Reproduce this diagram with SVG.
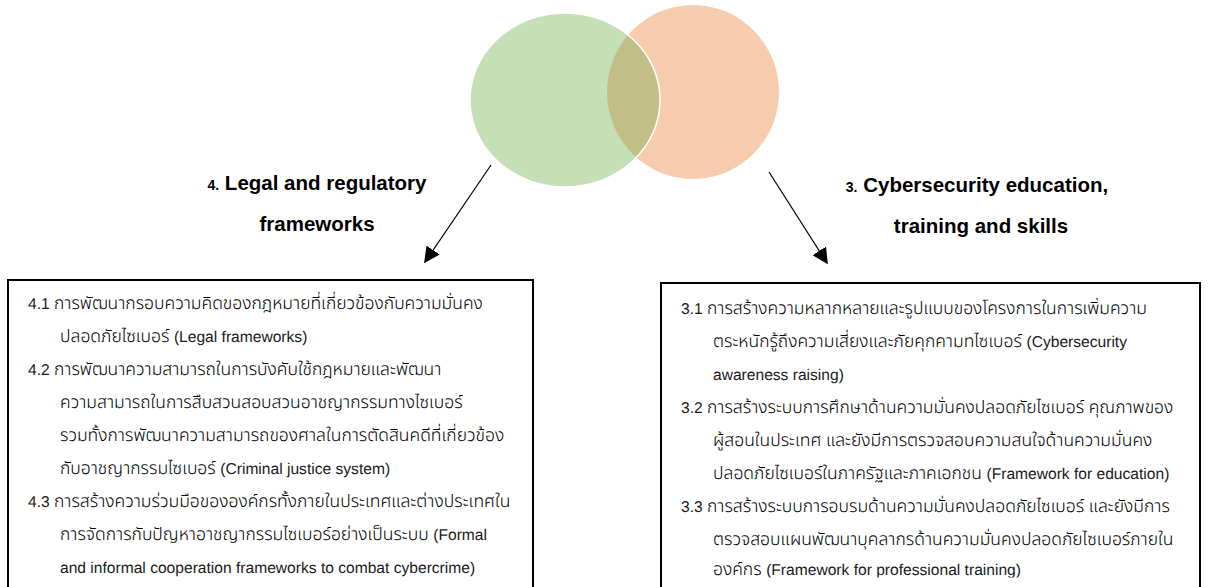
<svg xmlns="http://www.w3.org/2000/svg" width="1210" height="587" viewBox="0 0 1210 587">
  <style>
    .title { font-family: "Liberation Sans", Arial, sans-serif; font-weight: bold; font-size: 20.5px; fill: #000; }
    .num { font-size: 14px; }
    .body { font-family: "Liberation Sans", Arial, sans-serif; font-size: 15.6px; font-weight: normal; fill: #1a1a1a; text-rendering: geometricPrecision; }
    .th { font-family: "Noto Sans Thai", "Liberation Sans", sans-serif; font-size: 17.5px; font-weight: 350; fill: #000; }
    .box { fill: #fff; stroke: #000; stroke-width: 2; }
    .conn { stroke: #000; stroke-width: 1.2; fill: none; marker-end: url(#arrow); }
  </style>
  <defs>
    <marker id="arrow" viewBox="0 0 10 10" refX="9" refY="5" markerWidth="16" markerHeight="16" markerUnits="userSpaceOnUse" orient="auto">
      <path d="M0,0 L10,5 L0,10 z" fill="#000"/>
    </marker>
    <clipPath id="greenClip">
      <ellipse cx="565" cy="100" rx="95" ry="87"/>
    </clipPath>
    <clipPath id="rightBoxClip">
      <rect x="661" y="283" width="540" height="294.5"/>
    </clipPath>
  </defs>

  <!-- Venn pair -->
  <g id="venn">
    <ellipse cx="693" cy="92" rx="86" ry="87" fill="#f7cbae"/>
    <ellipse cx="565" cy="100" rx="95" ry="87" fill="#c5dfb7"/>
    <ellipse cx="693" cy="92" rx="86" ry="87" fill="#c1bf85" clip-path="url(#greenClip)"/>
    <ellipse cx="565" cy="100" rx="95" ry="87" fill="none" stroke="#fff" stroke-width="1.5"/>
  </g>

  <!-- Connectors -->
  <g id="connectors">
    <line class="conn" x1="491" y1="165" x2="425" y2="262"/>
    <line class="conn" x1="769" y1="172" x2="827" y2="263"/>
  </g>

  <!-- Pillar 4 title -->
  <g id="title-legal">
    <text class="title" x="317" y="190" text-anchor="middle"><tspan class="num">4.</tspan> Legal and regulatory</text>
    <text class="title" x="317" y="231" text-anchor="middle">frameworks</text>
  </g>

  <!-- Pillar 3 title -->
  <g id="title-education">
    <text class="title" x="977" y="192" text-anchor="middle"><tspan class="num">3.</tspan> Cybersecurity education,</text>
    <text class="title" x="981" y="233" text-anchor="middle">training and skills</text>
  </g>

  <!-- Pillar 4 details -->
  <g id="box-legal">
    <rect class="box" x="8" y="280" width="525" height="320"/>
    <text class="body" x="28" y="309">4.1 <tspan class="th">การพัฒนากรอบความคิดของกฎหมายที่เกี่ยวข้องกับความมั่นคง</tspan></text>
    <text class="body" x="60" y="342"><tspan class="th">ปลอดภัยไซเบอร์ </tspan>(Legal frameworks)</text>
    <text class="body" x="28" y="375">4.2 <tspan class="th">การพัฒนาความสามารถในการบังคับใช้กฎหมายและพัฒนา</tspan></text>
    <text class="body" x="60" y="408"><tspan class="th">ความสามารถในการสืบสวนสอบสวนอาชญากรรมทางไซเบอร์</tspan></text>
    <text class="body" x="60" y="441"><tspan class="th">รวมทั้งการพัฒนาความสามารถของศาลในการตัดสินคดีที่เกี่ยวข้อง</tspan></text>
    <text class="body" x="60" y="474"><tspan class="th">กับอาชญากรรมไซเบอร์ </tspan>(Criminal justice system)</text>
    <text class="body" x="28" y="507">4.3 <tspan class="th">การสร้างความร่วมมือขององค์กรทั้งภายในประเทศและต่างประเทศใน</tspan></text>
    <text class="body" x="60" y="540"><tspan class="th">การจัดการกับปัญหาอาชญากรรมไซเบอร์อย่างเป็นระบบ </tspan>(Formal</text>
    <text class="body" x="60" y="573">and informal cooperation frameworks to combat cybercrime)</text>
  </g>

  <!-- Pillar 3 details -->
  <g id="box-education">
    <rect class="box" x="661" y="283" width="539" height="320"/>
    <g clip-path="url(#rightBoxClip)">
      <text class="body" x="681" y="314">3.1 <tspan class="th">การสร้างความหลากหลายและรูปแบบของโครงการในการเพิ่มความ</tspan></text>
      <text class="body" x="713" y="347"><tspan class="th">ตระหนักรู้ถึงความเสี่ยงและภัยคุกคามทไซเบอร์ </tspan>(Cybersecurity</text>
      <text class="body" x="713" y="380">awareness raising)</text>
      <text class="body" x="681" y="413">3.2 <tspan class="th">การสร้างระบบการศึกษาด้านความมั่นคงปลอดภัยไซเบอร์ คุณภาพของ</tspan></text>
      <text class="body" x="713" y="446"><tspan class="th">ผู้สอนในประเทศ และยังมีการตรวจสอบความสนใจด้านความมั่นคง</tspan></text>
      <text class="body" x="713" y="479"><tspan class="th">ปลอดภัยไซเบอร์ในภาครัฐและภาคเอกชน </tspan>(Framework for education)</text>
      <text class="body" x="681" y="512">3.3 <tspan class="th">การสร้างระบบการอบรมด้านความมั่นคงปลอดภัยไซเบอร์ และยังมีการ</tspan></text>
      <text class="body" x="713" y="545"><tspan class="th">ตรวจสอบแผนพัฒนาบุคลากรด้านความมั่นคงปลอดภัยไซเบอร์ภายใน</tspan></text>
      <text class="body" x="713" y="575"><tspan class="th">องค์กร </tspan>(Framework for professional training)</text>
    </g>
  </g>
</svg>
